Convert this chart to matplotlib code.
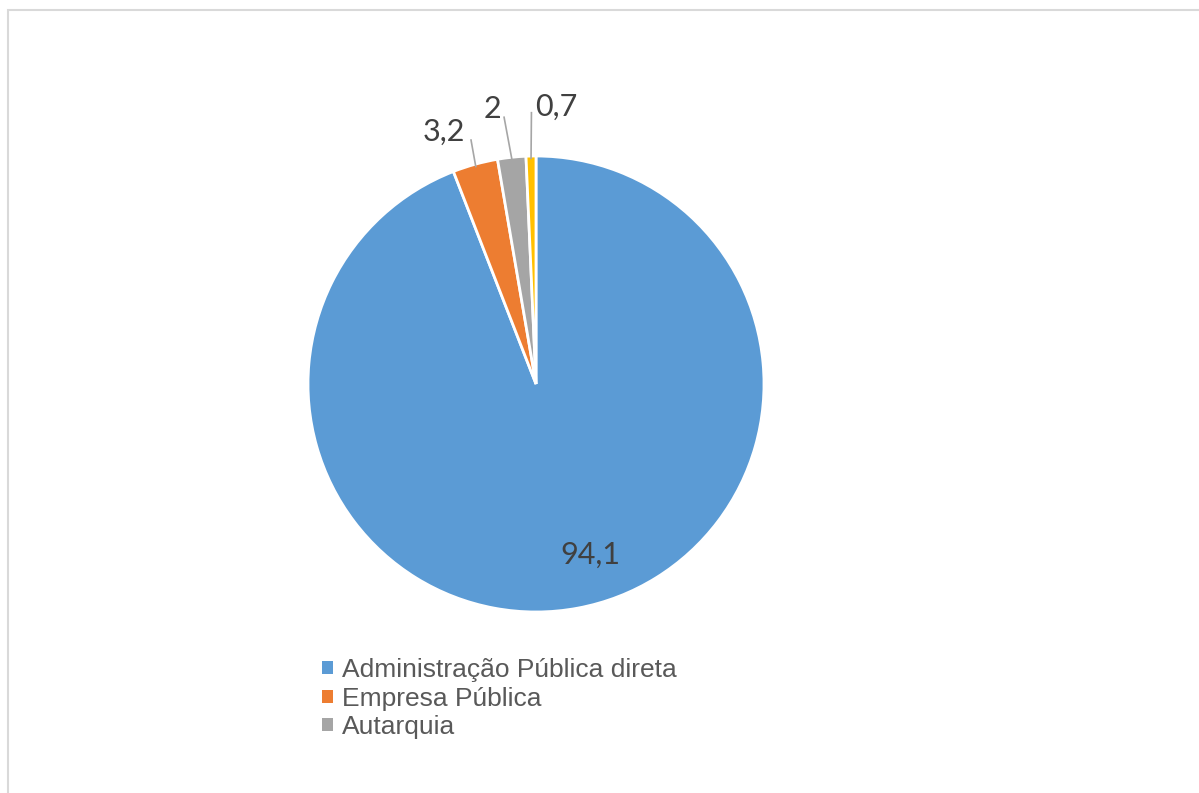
import numpy as np
import matplotlib.pyplot as plt
from matplotlib.patches import Rectangle, Patch

# share per category (%)
categories = ["Administração Pública direta", "Empresa Pública", "Autarquia", "Outros"]
values = [94.1, 3.2, 2, 0.7]
value_labels = ["94,1", "3,2", "2", "0,7"]
colors = ["#5B9BD5", "#ED7D31", "#A5A5A5", "#FFC000"]

fig = plt.figure(figsize=(11.99, 7.93), dpi=100)

# light frame of the chart area
fig.patches.append(Rectangle((8 / 1199, -0.1), 1.2, 0.1 + 783 / 793, transform=fig.transFigure,
                             fill=False, edgecolor="#D9D9D9", linewidth=1.5))

ax = fig.add_axes([194 / 1199, 67 / 793, 684 / 1199, 684 / 793])
wedges, _ = ax.pie(values, colors=colors, startangle=90, counterclock=False,
                   wedgeprops=dict(edgecolor="white", linewidth=2))
ax.set_xlim(-1.5, 1.5)
ax.set_ylim(-1.5, 1.5)
ax.set_aspect("equal")
ax.axis("off")

label_font = dict(family="Lato", size=22, color="#404040")

# big slice label inside
ax.text(0.24, -0.75, value_labels[0], ha="center", va="center", **label_font)

# small slices: outside labels with leader lines
text_pos = [None, (-0.405, 1.107), (-0.19, 1.207), (0.09, 1.217)]
line_start = [None, (-0.285, 1.07), (-0.14, 1.17), (-0.02, 1.19)]
for i in range(1, len(values)):
    w = wedges[i]
    mid = np.deg2rad((w.theta1 + w.theta2) / 2)
    ex, ey = 0.99 * np.cos(mid), 0.99 * np.sin(mid)
    sx, sy = line_start[i]
    ax.plot([sx, ex], [sy, ey], color="#A6A6A6", linewidth=1.2)
    ax.text(text_pos[i][0], text_pos[i][1], value_labels[i], ha="center", va="center", **label_font)

handles = [Patch(facecolor=colors[i], edgecolor="none") for i in range(3)]
fig.legend(handles, categories[:3], loc="upper left", bbox_to_anchor=(309 / 1199, 1 - 645 / 793),
           frameon=False, handlelength=0.4, handleheight=0.4, handletextpad=0.35,
           labelspacing=0.17, borderpad=0, prop=dict(family="Liberation Sans", size=19),
           labelcolor="#595959")

fig.savefig("out.png", dpi=100)
